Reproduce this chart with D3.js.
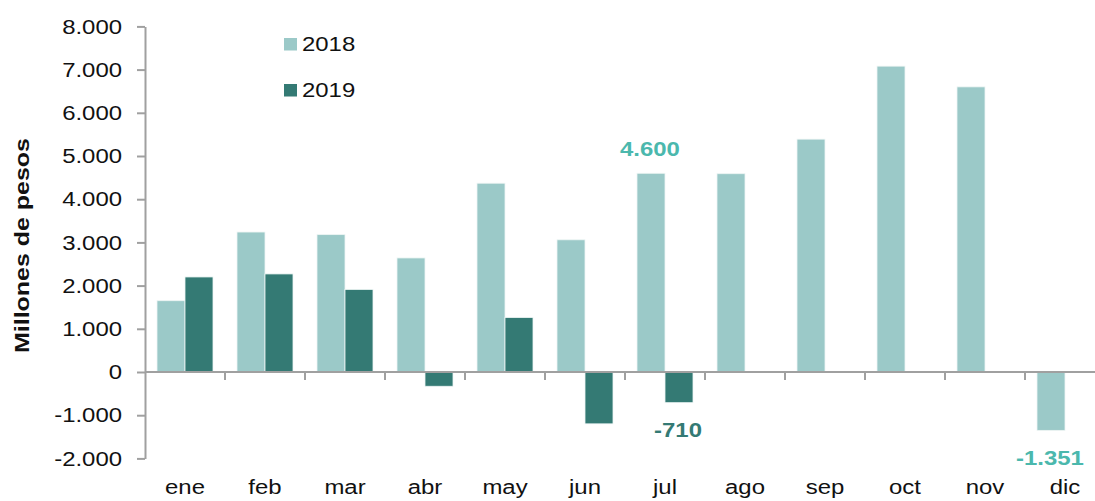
<!DOCTYPE html>
<html>
<head>
<meta charset="utf-8">
<script src="https://cdn.jsdelivr.net/npm/d3@7"></script>
<style>
  body { margin: 0; background: #fff; }
  text { font-family: "Liberation Sans", Arial, sans-serif; }
</style>
</head>
<body>
<script>
// datos (millones de pesos)
var months = ["ene", "feb", "mar", "abr", "may", "jun", "jul", "ago", "sep", "oct", "nov", "dic"];
var years = ["2018", "2019"];
var values2018 = [1650, 3240, 3180, 2640, 4370, 3060, 4600, 4590, 5390, 7080, 6600, -1351];
var values2019 = [2200, 2270, 1910, -330, 1260, -1200, -710, null, null, null, null, null];
var yTicks = [-2000, -1000, 0, 1000, 2000, 3000, 4000, 5000, 6000, 7000, 8000];
// valores destacados
var callouts = [
	{ month: "jul", year: "2018", value: 4600 },
	{ month: "jul", year: "2019", value: -710 },
	{ month: "dic", year: "2018", value: -1351 }
];

var colors = { "2018": "#9bc9c8", "2019": "#347a74" };
var calloutColors = { "2018": "#4bb8ad", "2019": "#347a74" };
var axisColor = "#a0a0a0";
var fontSize = 21;
var sx = 1.14; // el texto del original sale mas ancho

var fmt = d3.formatLocale({ decimal: ",", thousands: ".", grouping: [3], currency: ["$", ""], minus: "-" }).format(",");

// ensancha el texto sin mover su punto de anclaje
var stretch = function(sel){
	sel.each(function(){
		var t = d3.select(this);
		var x = Number(t.attr("x")) || 0;
		t.attr("x", x / sx).attr("transform", "scale(" + sx + ",1)");
	});
};

var W = 1095, H = 501;
var svg = d3.select("body").append("svg")
	.attr("width", W)
	.attr("height", H);

var x0 = d3.scaleBand().domain(months).range([145, 1105]);
var x1 = d3.scaleBand().domain(years).range([12, 68]);
var y = d3.scaleLinear().domain([-2000, 8000]).range([458.4, 26.4]);

// eje y
var yAxis = svg.append("g")
	.attr("transform", "translate(145,0)")
	.call(d3.axisLeft(y).tickValues(yTicks).tickFormat(fmt).tickSize(8).tickSizeOuter(0).tickPadding(15));
yAxis.select(".domain").attr("stroke", axisColor).attr("stroke-width", 2);
yAxis.selectAll(".tick line").attr("stroke", axisColor).attr("stroke-width", 2);
yAxis.selectAll(".tick text")
	.attr("font-size", fontSize)
	.attr("fill", "#111")
	.call(stretch);

// barras
var series = [
	{ year: "2018", values: values2018 },
	{ year: "2019", values: values2019 }
];

series.forEach(function(s){
	var rows = months.map(function(m, i){ return { month: m, value: s.values[i] }; })
		.filter(function(d){ return d.value !== null; });
	svg.append("g")
		.selectAll("rect")
		.data(rows)
		.enter()
		.append("rect")
		.attr("x", function(d){ return x0(d.month) + x1(s.year); })
		.attr("y", function(d){ return y(Math.max(0, d.value)); })
		.attr("width", x1.bandwidth())
		.attr("height", function(d){ return Math.abs(y(d.value) - y(0)); })
		.attr("fill", colors[s.year])
		.attr("stroke", "#eef5f4")
		.attr("stroke-width", 0.8);
});

// linea del cero con marcas entre meses
var zeroAxis = svg.append("g");
zeroAxis.append("line")
	.attr("x1", 145)
	.attr("x2", W)
	.attr("y1", y(0))
	.attr("y2", y(0))
	.attr("stroke", axisColor)
	.attr("stroke-width", 2);
zeroAxis.selectAll("line.sep")
	.data(months.slice(1))
	.enter()
	.append("line")
	.attr("class", "sep")
	.attr("x1", function(m){ return x0(m); })
	.attr("x2", function(m){ return x0(m); })
	.attr("y1", y(0))
	.attr("y2", y(0) + 8)
	.attr("stroke", axisColor)
	.attr("stroke-width", 2);

// etiquetas de meses abajo
var xAxis = svg.append("g")
	.attr("transform", "translate(0," + y(-2000) + ")")
	.call(d3.axisBottom(x0).tickSize(0).tickPadding(21));
xAxis.select(".domain").remove();
xAxis.selectAll(".tick text")
	.attr("font-size", fontSize)
	.attr("fill", "#111")
	.call(stretch);

// titulo eje y
svg.append("text")
	.attr("transform", "translate(29,245.5) rotate(-90)")
	.attr("text-anchor", "middle")
	.attr("font-size", 21)
	.attr("font-weight", "bold")
	.attr("fill", "#111")
	.attr("textLength", 215)
	.attr("lengthAdjust", "spacingAndGlyphs")
	.text("Millones de pesos");

// leyenda
var legend = svg.append("g")
	.selectAll("g")
	.data(years)
	.enter()
	.append("g")
	.attr("transform", function(d, i){ return "translate(284," + (38 + i * 46) + ")"; });
legend.append("rect")
	.attr("width", 13)
	.attr("height", 12.5)
	.attr("fill", function(d){ return colors[d]; });
legend.append("text")
	.attr("x", 18)
	.attr("y", 13)
	.attr("font-size", fontSize)
	.attr("fill", "#111")
	.text(function(d){ return d; })
	.call(stretch);

// valores destacados
svg.append("g")
	.selectAll("text")
	.data(callouts)
	.enter()
	.append("text")
	.attr("x", function(d){ return x0(d.month) + x1(d.year) + x1.bandwidth() / 2 - 1; })
	.attr("y", function(d){ return d.value > 0 ? y(d.value) - 17 : y(d.value) + 34.5; })
	.attr("text-anchor", "middle")
	.attr("font-size", fontSize)
	.attr("font-weight", "bold")
	.attr("fill", function(d){ return calloutColors[d.year]; })
	.text(function(d){ return fmt(d.value); })
	.call(stretch);
</script>
</body>
</html>
